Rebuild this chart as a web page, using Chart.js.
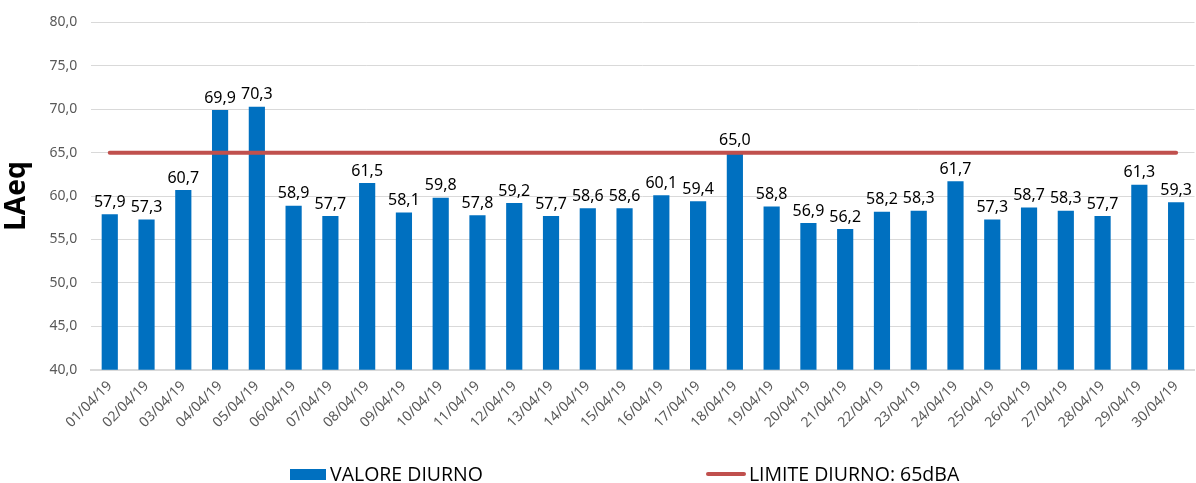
<!DOCTYPE html>
<html lang="it">
<head>
    <meta charset="UTF-8">
    <title>LAeq diurno</title>
    <style>
        body { margin: 0; background: #fff; }
        #wrap { position: relative; width: 1196px; height: 483px; }
        #legend {
            position: absolute;
            left: 290px;
            top: 463px;
            display: flex;
            align-items: center;
            gap: 223px;
            font-family: "Open Sans", "Noto Sans", sans-serif;
            font-size: 19.5px;
            color: #000;
            line-height: 22px;
        }
        .item { display: flex; align-items: center; white-space: nowrap; }
        .box { width: 36px; height: 11px; background: #0070C0; margin-right: 4px; }
        .line { width: 40px; height: 4px; border-radius: 2px; background: #C0504D; margin-right: 3px; }
    </style>
</head>
<body>
    <div id="wrap">
        <canvas id="chart" width="1196" height="483"></canvas>
        <div id="legend">
            <div class="item"><span class="box"></span><span id="lab0"></span></div>
            <div class="item"><span class="line"></span><span id="lab1"></span></div>
        </div>
    </div>

    <script src="https://cdn.jsdelivr.net/npm/chart.js"></script>
    <script>
        const days = ['01/04/19','02/04/19','03/04/19','04/04/19','05/04/19','06/04/19','07/04/19','08/04/19','09/04/19','10/04/19',
                      '11/04/19','12/04/19','13/04/19','14/04/19','15/04/19','16/04/19','17/04/19','18/04/19','19/04/19','20/04/19',
                      '21/04/19','22/04/19','23/04/19','24/04/19','25/04/19','26/04/19','27/04/19','28/04/19','29/04/19','30/04/19'];
        const valoreDiurno = [57.9, 57.3, 60.7, 69.9, 70.3, 58.9, 57.7, 61.5, 58.1, 59.8,
                              57.8, 59.2, 57.7, 58.6, 58.6, 60.1, 59.4, 65.0, 58.8, 56.9,
                              56.2, 58.2, 58.3, 61.7, 57.3, 58.7, 58.3, 57.7, 61.3, 59.3];
        const limiteDiurno = days.map(() => 65);
        const seriesNames = ['VALORE DIURNO', 'LIMITE DIURNO: 65dBA'];
        const yMin = 40, yMax = 80, yStep = 5;

        const fmt = v => v.toFixed(1).replace('.', ',');
        const FONT = '"Noto Sans", "Open Sans", sans-serif';

        document.getElementById('lab0').textContent = seriesNames[0];
        document.getElementById('lab1').textContent = seriesNames[1];

        // value labels above the bars
        const barLabels = {
            id: 'barLabels',
            afterDatasetsDraw(chart) {
                const ctx = chart.ctx;
                const meta = chart.getDatasetMeta(0);
                ctx.save();
                ctx.font = '16px ' + FONT;
                ctx.fillStyle = '#000';
                ctx.textAlign = 'center';
                ctx.textBaseline = 'bottom';
                meta.data.forEach((bar, i) => {
                    ctx.fillText(fmt(valoreDiurno[i]), bar.x, bar.y - 4);
                });
                ctx.restore();
            }
        };

        new Chart(document.getElementById('chart'), {
            type: 'bar',
            data: {
                labels: days,
                datasets: [{
                    label: seriesNames[0],
                    data: valoreDiurno,
                    backgroundColor: '#0070C0',
                    barPercentage: 0.44,
                    categoryPercentage: 1,
                    order: 2
                }, {
                    type: 'line',
                    label: seriesNames[1],
                    data: limiteDiurno,
                    borderColor: '#C0504D',
                    backgroundColor: '#C0504D',
                    borderWidth: 4,
                    pointRadius: 0,
                    borderCapStyle: 'round',
                    order: 1
                }]
            },
            options: {
                responsive: false,
                animation: false,
                layout: { padding: { left: 0, right: 0, top: 10, bottom: 44 } },
                plugins: {
                    tooltip: { enabled: false },
                    legend: { display: false }
                },
                scales: {
                    x: {
                        grid: { display: false, drawTicks: false },
                        border: { color: '#D9D9D9', width: 2 },
                        ticks: {
                            minRotation: 45,
                            maxRotation: 45,
                            autoSkip: false,
                            color: '#595959',
                            font: { size: 14, family: FONT },
                            padding: 8
                        }
                    },
                    y: {
                        min: yMin,
                        max: yMax,
                        grid: { color: '#D9D9D9', drawTicks: false },
                        border: { display: false },
                        ticks: {
                            stepSize: yStep,
                            color: '#595959',
                            font: { size: 14, family: FONT },
                            padding: 14,
                            callback: v => fmt(v)
                        },
                        title: {
                            display: true,
                            text: 'LAeq',
                            color: '#000',
                            font: { size: 28, weight: 'bold', family: FONT },
                            padding: { top: 0, bottom: 2 }
                        }
                    }
                }
            },
            plugins: [barLabels]
        });
    </script>
</body>
</html>
